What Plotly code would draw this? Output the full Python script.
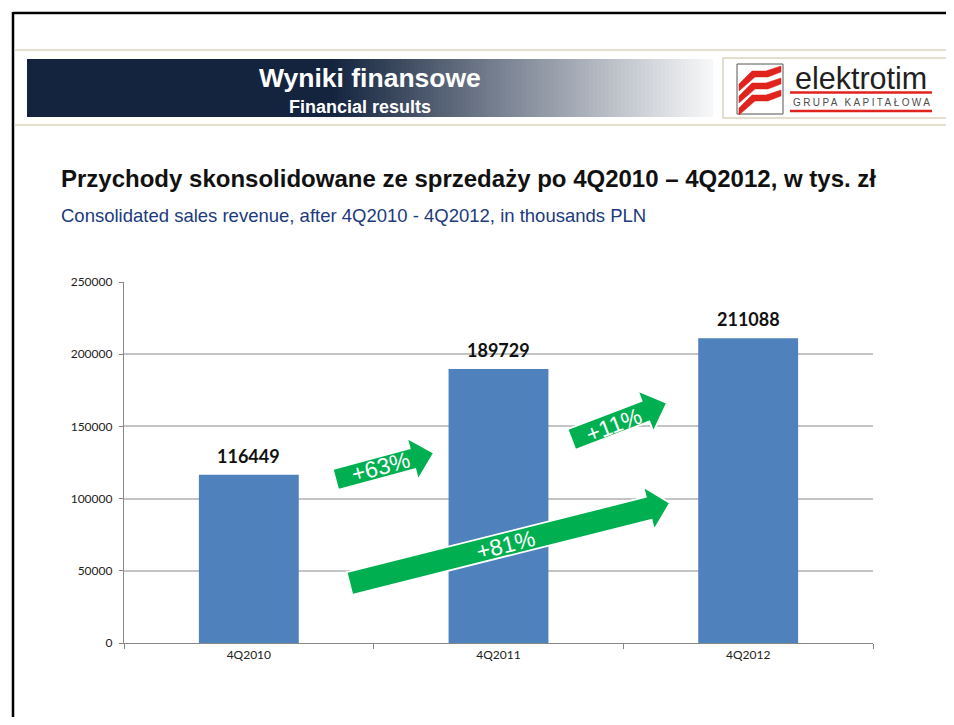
import math
import plotly.graph_objects as go

# ---------------- data ----------------
categories = ["4Q2010", "4Q2011", "4Q2012"]
revenue = [116449, 189729, 211088]
y_tick_values = [0, 50000, 100000, 150000, 200000, 250000]
y_tick_labels = ["0", "50000", "100000", "150000", "200000", "250000"]
growth_pairs = [(0, 1), (1, 2), (0, 2)]   # comparisons shown by the green arrows

header_title = "Wyniki finansowe"
header_subtitle = "Financial results"
chart_title = "Przychody skonsolidowane ze sprzedaży po 4Q2010 – 4Q2012, w tys. zł"
chart_subtitle = "Consolidated sales revenue, after 4Q2010 - 4Q2012, in thousands PLN"
logo_name = "elektrotim"
logo_tag = "GRUPA KAPITAŁOWA"

# ---------------- styling / layout geometry (screen pixels) ----------------
VIEW_W, VIEW_H = 954, 725
OFF = 8                      # page body margin of the html page
W, H = VIEW_W - OFF, VIEW_H - 2 * OFF
L, R, T, B = 124, 873, 282, 643
ARIAL = "Liberation Sans, Arial, sans-serif"
CALIBRI = "Lato, Carlito, Calibri, sans-serif"
GREEN = "#00b050"
BAR = "#4f81bd"
BEIGE = "#d9d5bd"
RED = "#e0231d"


def px(x):
    return (x - L) / (R - L)


def py(y):
    return (B - y) / (B - T)


shapes = []
annotations = []


def line(x0, y0, x1, y1, color, width):
    shapes.append(dict(type="line", xref="paper", yref="paper",
                       x0=px(x0), y0=py(y0), x1=px(x1), y1=py(y1),
                       line=dict(color=color, width=width)))


def rect(x0, y0, x1, y1, fill, lcolor=None, lwidth=0):
    shapes.append(dict(type="rect", xref="paper", yref="paper",
                       x0=px(x0), y0=py(y0), x1=px(x1), y1=py(y1),
                       fillcolor=fill,
                       line=dict(color=lcolor or fill, width=lwidth)))


def poly(points, fill=None, lcolor=None, lwidth=0, closed=True, layer="above"):
    d = "M " + " L ".join(f"{px(x):.5f},{py(y):.5f}" for x, y in points)
    if closed:
        d += " Z"
    s = dict(type="path", xref="paper", yref="paper", path=d, layer=layer,
             line=dict(color=lcolor or "rgba(0,0,0,0)", width=lwidth))
    if fill:
        s["fillcolor"] = fill
    shapes.append(s)


def text(x, y, s, size, color, family=ARIAL, weight="normal", xanchor="center",
         angle=0):
    annotations.append(dict(xref="paper", yref="paper", x=px(x), y=py(y),
                            text=s, showarrow=False, xanchor=xanchor,
                            yanchor="middle", textangle=angle,
                            font=dict(size=size, color=color, family=family,
                                      weight=weight)))


# ---------------- page frame ----------------
line(13, 13, 960, 13, "#000000", 2.5)
line(13, 12, 13, 730, "#000000", 2.5)
line(14, 50, 960, 50, BEIGE, 1.5)
line(14, 125, 960, 125, BEIGE, 1.5)

# ---------------- header band with gradient ----------------
rect(27, 59, 331, 117, "#14243f")
c0 = (0x14, 0x24, 0x3f)
c1 = (0xf6, 0xf7, 0xf8)
steps = 96
gx0, gx1 = 330, 713
for i in range(steps):
    t = i / (steps - 1)
    col = "rgb({},{},{})".format(*[round(a + (b - a) * t) for a, b in zip(c0, c1)])
    xa = gx0 + (gx1 - gx0) * i / steps
    xb = gx0 + (gx1 - gx0) * (i + 1) / steps + 0.6
    rect(xa, 59, min(xb, gx1), 117, col)

text(370, 77.5, header_title, 26.5, "#ffffff", weight="bold")
text(360, 107, header_subtitle, 18, "#ffffff", weight="bold")

# ---------------- logo ----------------
rect(723, 58, 948, 118, "#ffffff", BEIGE, 1.5)
rect(737, 64, 783, 114, "rgba(0,0,0,0)", "#555555", 1)
for k in range(3):
    dy = 12 * k
    pts = [(739, 84 + dy), (752, 71 + dy), (766, 71 + dy), (781, 66 + dy),
           (781, 72 + dy), (768, 77 + dy), (755, 77 + dy), (739, 91 + dy)]
    poly(pts, fill=RED, lcolor=RED, lwidth=0.5)
text(861, 78, logo_name, 30.5, "#231f20")
line(790, 92.5, 932, 92.5, RED, 2.5)
line(790, 111, 932, 111, RED, 2.5)
text(862, 102.5, '<span style="letter-spacing:2.4px">' + logo_tag + '</span>',
     10, "#4d4d4d")

# ---------------- titles ----------------
text(59, 178.5, chart_title, 24, "#111111", weight="bold", xanchor="left")
text(59, 215, chart_subtitle, 18.5, "#203a7c", xanchor="left")

# ---------------- bars ----------------
fig = go.Figure(go.Bar(x=categories, y=revenue, width=0.4,
                       marker=dict(color=BAR, line=dict(width=0)),
                       hoverinfo="x+y"))

for c, v in zip(categories, revenue):
    annotations.append(dict(xref="x", yref="y", x=c, y=v, text=str(v),
                            showarrow=False, yanchor="bottom", yshift=6,
                            font=dict(size=18, color="#111111", family=CALIBRI,
                                      weight="bold")))

# ---------------- growth arrows ----------------
arrow_geom = [
    dict(tail=(335.5, 479.5), tip=(434, 453), sw=21.6, hw=43.4, hl=22.3, label_at=(380, 467)),
    dict(tail=(571.5, 439.5), tip=(667, 403), sw=22.0, hw=44.0, hl=23.0, label_at=(614, 425)),
    dict(tail=(349.5, 583.5), tip=(670, 503), sw=23.5, hw=44.7, hl=22.0, label_at=(505, 545)),
]
for (a, b), g in zip(growth_pairs, arrow_geom):
    pct = round((revenue[b] / revenue[a] - 1) * 100)
    (tx, ty), (hx, hy) = g["tail"], g["tip"]
    dx, dy = hx - tx, hy - ty
    ln = math.hypot(dx, dy)
    ux, uy = dx / ln, dy / ln
    nx, ny = -uy, ux
    bx, by = hx - ux * g["hl"], hy - uy * g["hl"]
    s, h = g["sw"] / 2, g["hw"] / 2
    pts = [(tx + nx * s, ty + ny * s), (bx + nx * s, by + ny * s),
           (bx + nx * h, by + ny * h), (hx, hy),
           (bx - nx * h, by - ny * h), (bx - nx * s, by - ny * s),
           (tx - nx * s, ty - ny * s)]
    poly(pts, fill=GREEN, lcolor="#ffffff", lwidth=1.8)
    ang = -math.degrees(math.atan2(-dy, dx))
    lx, ly = g["label_at"]
    text(lx, ly, f"+{pct}%", 23, "#ffffff", angle=ang)

fig.update_layout(
    width=W, height=H,
    margin=dict(l=L - OFF, r=VIEW_W - R, t=T - OFF, b=VIEW_H - B - OFF, pad=0),
    paper_bgcolor="#ffffff", plot_bgcolor="#ffffff",
    showlegend=False,
    shapes=shapes, annotations=annotations,
    font=dict(family=CALIBRI, size=12, color="#222222"),
    xaxis=dict(type="category", tickson="boundaries", ticks="outside",
               ticklen=5, tickcolor="#888888", showline=True,
               linecolor="#888888", linewidth=1.3, showgrid=False,
               tickfont=dict(size=12, family=CALIBRI, color="#222222"),
               automargin=False, fixedrange=True),
    yaxis=dict(range=[0, 250000], tickvals=y_tick_values, ticktext=y_tick_labels,
               ticks="outside", ticklen=4, tickcolor="#888888",
               showline=True, linecolor="#888888", linewidth=1.3,
               showgrid=True, gridcolor="#c4c4c4", gridwidth=1.5,
               zeroline=False, ticklabelstandoff=4,
               tickfont=dict(size=12, family=CALIBRI, color="#222222"),
               automargin=False, fixedrange=True),
)

fig.write_html("out.html")
